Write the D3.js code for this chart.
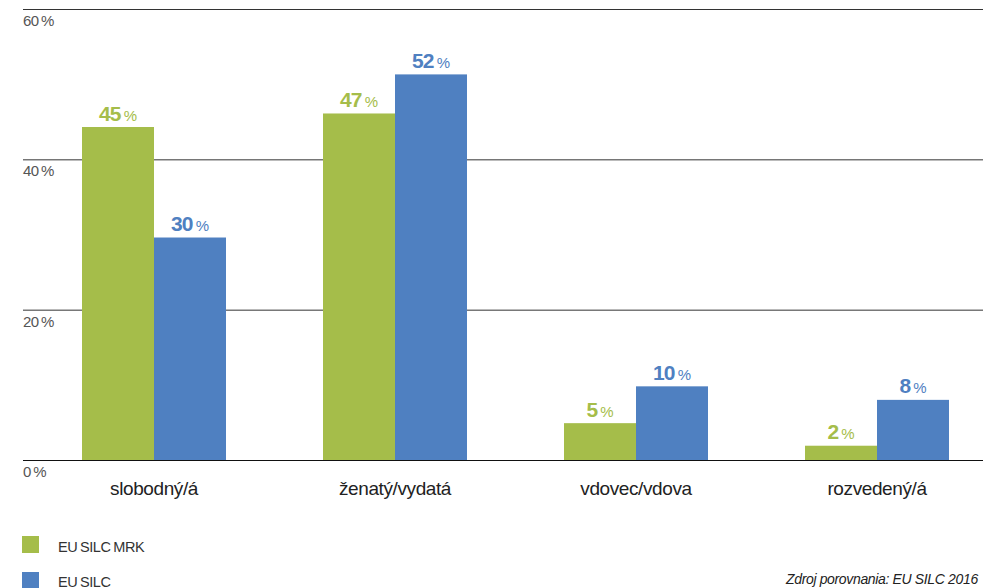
<!DOCTYPE html>
<html><head><meta charset="utf-8">
<script src="https://cdn.jsdelivr.net/npm/d3@7"></script>
<style>body{margin:0;background:#fff;overflow:hidden}svg{display:block}</style>
</head><body>
<script>
const categories = ["slobodný/á", "ženatý/vydatá", "vdovec/vdova", "rozvedený/á"];
const seriesNames = ["EU SILC MRK", "EU SILC"];
const mrkValues = [44.3, 46.1, 4.9, 1.9];
const silcValues = [29.6, 51.3, 9.8, 8.0];
const mrkLabels = ["45", "47", "5", "2"];
const silcLabels = ["30", "52", "10", "8"];
const yTicks = [0, 20, 40, 60];
const sourceText = "Zdroj porovnania: EU SILC 2016";

const W = 983, H = 588;
const colors = ["#a5bd4a", "#4f80c1"];
const font = "Liberation Sans, Arial, sans-serif";
const svg = d3.select("body").append("svg").attr("width", W).attr("height", H);

const y = d3.scaleLinear().domain([0, 60]).range([460, 9]);
const x = d3.scaleBand().domain(categories).range([33.5, 997.5]).paddingInner(0.4025).paddingOuter(0.20125);
const xs = d3.scaleBand().domain([0, 1]).range([0, x.bandwidth()]);

// gridlines
svg.append("g").selectAll("line").data(yTicks).join("line")
  .attr("x1", 23).attr("x2", W).attr("y1", d => y(d) + 0.5).attr("y2", d => y(d) + 0.5)
  .attr("stroke", d => d === 0 ? "#111" : "#333").attr("stroke-width", 1);

// tick labels
svg.append("g").selectAll("text").data(yTicks).join("text")
  .attr("x", 23).attr("y", d => y(d) + 17)
  .attr("font-family", font).attr("font-size", 15)
  .attr("fill", "#555").attr("letter-spacing", -0.6)
  .text(d => d + "\u2009%");

const series = [mrkValues, silcValues];
const labels = [mrkLabels, silcLabels];
series.forEach((vals, si) => {
  const g = svg.append("g");
  g.selectAll("rect").data(vals).join("rect")
    .attr("x", (d, i) => x(categories[i]) + xs(si))
    .attr("width", xs.bandwidth())
    .attr("y", d => y(d))
    .attr("height", d => y(0) - y(d))
    .attr("fill", colors[si]);
  const t = g.selectAll("text").data(vals).join("text")
    .attr("x", (d, i) => x(categories[i]) + xs(si) + xs.bandwidth() / 2)
    .attr("y", d => y(d) - 6.5)
    .attr("text-anchor", "middle")
    .attr("font-family", font)
    .attr("fill", colors[si]);
  t.append("tspan").attr("font-size", 21).attr("font-weight", "bold").attr("letter-spacing", -0.8)
    .text((d, i) => labels[si][i]);
  t.append("tspan").attr("font-size", 15).attr("dx", 3).text("%");
});

// category labels
svg.append("g").selectAll("text").data(categories).join("text")
  .attr("x", d => x(d) + x.bandwidth() / 2)
  .attr("y", 495)
  .attr("text-anchor", "middle")
  .attr("font-family", font).attr("font-size", 19)
  .attr("fill", "#222").attr("letter-spacing", -0.4)
  .text(d => d);

// legend
const leg = svg.append("g");
seriesNames.forEach((n, i) => {
  leg.append("rect").attr("x", 22).attr("y", 536 + i * 36).attr("width", 17).attr("height", 17).attr("fill", colors[i]);
  leg.append("text").attr("x", 58).attr("y", 551.5 + i * 35)
    .attr("font-family", font).attr("font-size", 14.5)
    .attr("fill", "#333").attr("letter-spacing", -0.4).attr("word-spacing", -1)
    .text(n);
});

svg.append("text").attr("x", 786).attr("y", 584)
  .attr("font-family", font).attr("font-size", 14)
  .attr("font-style", "italic").attr("fill", "#222").attr("letter-spacing", -0.35)
  .text(sourceText);
</script>
</body></html>
